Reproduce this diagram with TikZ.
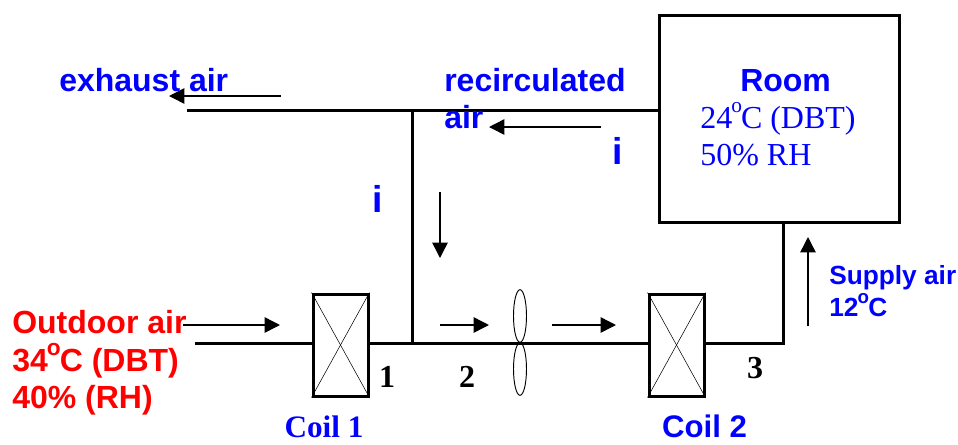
\documentclass[tikz,border=0pt]{standalone}
\usepackage{fontspec}
\setmainfont{Liberation Serif}
\setsansfont{Liberation Sans}
\usetikzlibrary{arrows.meta,shapes.geometric}
\definecolor{labelblue}{RGB}{0,0,255}
\definecolor{labelred}{RGB}{255,0,0}
\newcommand{\dego}[1]{\kern-.03em\raisebox{.48em}{\fontsize{#1}{#1}\selectfont o}\kern-.03em}
\begin{document}
\begin{tikzpicture}[x=0.75pt,y=-0.75pt,
  duct/.style={line width=2.25pt,line join=miter},
  flow/.style={line width=1.1pt,-{Triangle[length=11.5pt,width=11.5pt]}},
  coil/.style={draw,line width=2.25pt,fill=white,minimum width=41.25pt,minimum height=76.5pt,inner sep=0pt},
  blade/.style={draw,ellipse,line width=0.7pt,minimum width=9.75pt,minimum height=39.5pt,inner sep=0pt},
  lbl/.style={anchor=base west,inner sep=0pt,text=labelblue,font=\sffamily\bfseries\fontsize{24}{28}\selectfont},
  num/.style={anchor=base,inner sep=0pt,font=\bfseries\fontsize{24}{28}\selectfont},
  roomtxt/.style={anchor=base west,inner sep=0pt,text=labelblue,font=\fontsize{24}{28}\selectfont}]
  \useasboundingbox (0,0) rectangle (958,444);
  \node[draw,line width=2.25pt,minimum width=180pt,minimum height=155.25pt,inner sep=0pt] (room) at (779,118.5){};
  \node[coil] (coil1) at (340.5,345){};
  \node[coil] (coil2) at (676.5,345){};
  \coordinate (exh) at (187,110);
  \coordinate (tee1) at (412,110);
  \coordinate (inl) at (195,343);
  \coordinate (tee2) at (412,343);
  \coordinate (bend) at (783,343);
  \draw[duct] (exh) -- (tee1) -- (room.west |- tee1);
  \draw[duct] (tee1) -- (tee2);
  \draw[duct] (inl) -- (coil1.west |- inl);
  \draw[duct] (coil1.east |- inl) -- (coil2.west |- inl);
  \draw[duct] (coil2.east |- inl) -- (bend) -- (room.south -| bend);
  \node[blade] (fantop) at (520,316){};
  \node[blade] (fanbot) at (520,369){};
  \draw (coil1.north west) -- (coil1.south east);
  \draw (coil1.north east) -- (coil1.south west);
  \draw (coil2.north west) -- (coil2.south east);
  \draw (coil2.north east) -- (coil2.south west);
  \node[lbl] (exhlbl) at (59,91){exhaust air};
  \node[lbl] (reclbl) at (444,91){recirculated};
  \node[lbl] (airlbl) at (444,128){air};
  \node[lbl,font=\sffamily\bfseries\fontsize{28}{32}\selectfont] (ilbl1) at (372.5,212){i};
  \node[lbl,font=\sffamily\bfseries\fontsize{28}{32}\selectfont] (ilbl2) at (612.5,164){i};
  \node[lbl] (roomlbl) at (740,91){Room};
  \node[roomtxt] (roomt) at (700,128){24\dego{16}C (DBT)};
  \node[roomtxt] (roomh) at (700,165){50\% RH};
  \node[lbl,text=labelred] (outa) at (12,333){Outdoor air};
  \node[lbl,text=labelred] (outb) at (12,371){34\dego{17}C (DBT)};
  \node[lbl,text=labelred] (outc) at (12,408){40\% (RH)};
  \node[lbl,font=\sffamily\bfseries\fontsize{19.7}{24}\selectfont] (supa) at (829,284){Supply air};
  \node[lbl,font=\sffamily\bfseries\fontsize{19.7}{24}\selectfont] (supb) at (829,316){12\dego{14}C};
  \node[lbl,anchor=base,font=\bfseries\fontsize{23.4}{28}\selectfont] (c1lbl) at (324,437){Coil 1};
  \node[lbl,anchor=base,font=\sffamily\bfseries\fontsize{23.4}{28}\selectfont] (c2lbl) at (704.5,437){Coil 2};
  \node[num] (n1) at (387,387){1};
  \node[num] (n2) at (467,387){2};
  \node[num] (n3) at (755,378){3};
  \coordinate (fa) at (281,96);  \coordinate (fb) at (169,96);
  \coordinate (fc) at (601,127); \coordinate (fd) at (489,127);
  \coordinate (fe) at (440,192); \coordinate (ff) at (440,258);
  \coordinate (fg) at (183,325); \coordinate (fh) at (280,325);
  \coordinate (fi) at (440,325); \coordinate (fj) at (489,325);
  \coordinate (fk) at (552,325); \coordinate (fl) at (616,325);
  \coordinate (fm) at (808,326); \coordinate (fn) at (808,237);
  \draw[flow] (fa) -- (fb);
  \draw[flow] (fc) -- (fd);
  \draw[flow] (fe) -- (ff);
  \draw[flow] (fg) -- (fh);
  \draw[flow] (fi) -- (fj);
  \draw[flow] (fk) -- (fl);
  \draw[flow] (fm) -- (fn);
\end{tikzpicture}
\end{document}
